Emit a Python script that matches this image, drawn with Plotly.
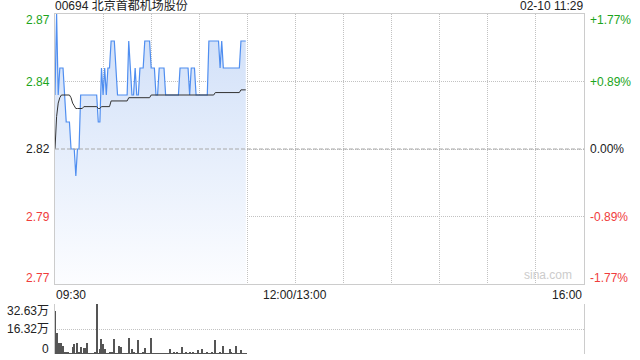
import plotly.graph_objects as go

# ---------------- data ----------------
title_text = "00694 北京首都机场股份"
stamp_text = "02-10 11:29"
prev_close = 2.82
price_min = 2.77
price_max = 2.87

minute_index = list(range(120))  # minutes after 09:30 (09:30 .. 11:29)

price = [
    2.84, 2.87, 2.84, 2.85, 2.85, 2.85, 2.84, 2.83, 2.83, 2.83,
    2.82, 2.82, 2.82, 2.81, 2.82, 2.82, 2.84, 2.84, 2.84, 2.84,
    2.84, 2.84, 2.84, 2.84, 2.84, 2.84, 2.84, 2.83, 2.83, 2.85,
    2.84, 2.85, 2.84, 2.85, 2.85, 2.86, 2.86, 2.86, 2.85, 2.84,
    2.84, 2.84, 2.84, 2.84, 2.84, 2.84, 2.86, 2.85, 2.84, 2.84,
    2.85, 2.84, 2.84, 2.85, 2.85, 2.85, 2.86, 2.86, 2.86, 2.86,
    2.85, 2.85, 2.85, 2.84, 2.84, 2.85, 2.85, 2.85, 2.85, 2.84,
    2.84, 2.84, 2.84, 2.84, 2.84, 2.84, 2.84, 2.84, 2.85, 2.85,
    2.85, 2.85, 2.85, 2.85, 2.84, 2.85, 2.85, 2.85, 2.84, 2.84,
    2.84, 2.84, 2.84, 2.84, 2.84, 2.84, 2.86, 2.86, 2.86, 2.86,
    2.86, 2.86, 2.86, 2.85, 2.86, 2.85, 2.85, 2.85, 2.85, 2.85,
    2.85, 2.85, 2.85, 2.85, 2.85, 2.85, 2.86, 2.86, 2.86, 2.86,
]

avg_price = [
    2.820, 2.832, 2.837, 2.839, 2.840, 2.840, 2.840, 2.840, 2.840, 2.840,
    2.839, 2.837, 2.836, 2.835, 2.835, 2.835, 2.835, 2.835, 2.8357, 2.8357,
    2.8357, 2.8357, 2.8357, 2.8357, 2.8357, 2.8357, 2.8357, 2.835, 2.835, 2.8357,
    2.8357, 2.8357, 2.8357, 2.8357, 2.8357, 2.8378, 2.8378, 2.8378, 2.8378, 2.8378,
    2.8378, 2.8378, 2.8378, 2.8378, 2.8378, 2.8378, 2.839, 2.839, 2.839, 2.839,
    2.839, 2.839, 2.839, 2.839, 2.839, 2.839, 2.839, 2.839, 2.839, 2.839,
    2.840, 2.840, 2.840, 2.840, 2.840, 2.840, 2.840, 2.840, 2.840, 2.840,
    2.840, 2.840, 2.840, 2.840, 2.840, 2.840, 2.840, 2.840, 2.840, 2.840,
    2.840, 2.840, 2.840, 2.840, 2.840, 2.840, 2.840, 2.840, 2.840, 2.840,
    2.840, 2.840, 2.840, 2.840, 2.840, 2.840, 2.840, 2.840, 2.840, 2.840,
    2.8409, 2.8409, 2.8409, 2.8409, 2.8409, 2.8409, 2.8409, 2.8409, 2.8409, 2.8409,
    2.8409, 2.8409, 2.8409, 2.8409, 2.8409, 2.8409, 2.8419, 2.8419, 2.8419, 2.8419,
]

volume = [
    280600, 139000, 74000, 74000, 72000, 54000, 13000, 13000, 7000, 2000,
    4000, 45000, 65000, 5000, 70000, 8000, 45000, 5000, 40000, 40000,
    72000, 3000, 2000, 4000, 3000, 8000, 326300, 3000, 33000, 98000,
    67000, 33000, 6500, 4000, 13000, 11000, 11000, 98000, 3000, 4000,
    54000, 46000, 4000, 6000, 3000, 2000, 105000, 4000, 30000, 15000,
    3000, 2000, 92000, 3000, 4000, 15000, 40000, 3000, 5000, 2000,
    105000, 3000, 2000, 4000, 2000, 3000, 5000, 2000, 3000, 4000,
    2000, 6000, 34000, 3000, 8000, 2000, 14000, 3000, 2000, 47000,
    3000, 4000, 14000, 3000, 13000, 2000, 10000, 3000, 4000, 24000,
    3000, 2000, 34000, 3000, 4000, 9000, 2000, 3000, 16000, 4000,
    91000, 3000, 2000, 11000, 3000, 54000, 4000, 2000, 5000, 30000,
    8000, 3000, 2000, 54000, 4000, 3000, 27000, 2000, 6000, 3000,
]

session_minutes = 330                      # 09:30-12:00 + 13:00-16:00
grid_minutes = [0, 30, 60, 90, 120, 150, 180, 210, 240, 270, 300, 330]
time_tick_pos = [0, 150, 330]
time_tick_labels = ["09:30", "12:00/13:00", "16:00"]

price_tick_vals = [2.87, 2.845, 2.82, 2.795, 2.77]
price_tick_labels = ["2.87", "2.84", "2.82", "2.79", "2.77"]
pct_tick_labels = ["+1.77%", "+0.89%", "0.00%", "-0.89%", "-1.77%"]

vol_max = 326300
vol_tick_vals = [326300, 163150, 0]
vol_tick_labels = ["32.63万", "16.32万", "0"]

# ---------------- styling ----------------
FONT = "Liberation Sans, Arial, Noto Sans CJK SC, sans-serif"
GREEN = "#1ca51c"
RED = "#f03c3c"
DARK = "#222222"
GRID = "#c2c2c2"
BORDER = "#cccccc"
DOT = "1px,1px"

def tick_color(v):
    if abs(v - prev_close) < 1e-9:
        return DARK
    return GREEN if v > prev_close else RED

fig = go.Figure()

# baseline for the fill
fig.add_trace(go.Scatter(
    x=minute_index, y=[price_min for _ in minute_index],
    mode="lines", line=dict(width=0, color="rgba(0,0,0,0)"),
    hoverinfo="skip", showlegend=False, xaxis="x", yaxis="y"))

fig.add_trace(go.Scatter(
    x=minute_index, y=price, mode="lines",
    line=dict(color="#4f8ef0", width=1.2, shape="linear"),
    fill="tonexty",
    fillgradient=dict(type="vertical",
                      colorscale=[[0, "rgb(252,253,255)"], [1, "rgb(206,222,248)"]],
                      start=price_min, stop=price_max),
    showlegend=False, xaxis="x", yaxis="y"))

fig.add_trace(go.Scatter(
    x=minute_index, y=avg_price, mode="lines",
    line=dict(color="#333333", width=1),
    showlegend=False, xaxis="x", yaxis="y"))

fig.add_trace(go.Bar(
    x=minute_index, y=volume, width=0.62,
    marker=dict(color="#555555", line=dict(width=0)),
    showlegend=False, xaxis="x2", yaxis="y2"))

main_bottom = 70 / 340.0
vol_top = 50 / 340.0

fig.update_layout(
    width=640, height=360,
    margin=dict(l=55, r=56, t=14, b=6, pad=0),
    paper_bgcolor="white", plot_bgcolor="white",
    font=dict(family=FONT, size=11, color=DARK),
    bargap=0,
    xaxis=dict(domain=[0, 1], range=[0, session_minutes], tickvals=grid_minutes,
               showticklabels=False, showgrid=True, gridcolor=GRID, griddash=DOT,
               gridwidth=1, zeroline=False, showline=True, linecolor=BORDER,
               linewidth=1, mirror=True, ticks=""),
    yaxis=dict(domain=[main_bottom, 1], range=[price_min, price_max],
               tickvals=price_tick_vals, showticklabels=False, showgrid=True,
               gridcolor=GRID, griddash=DOT, gridwidth=1, zeroline=False,
               showline=True, linecolor=BORDER, linewidth=1, mirror=True, ticks=""),
    xaxis2=dict(domain=[0, 1], range=[0, session_minutes], anchor="y2",
                showticklabels=False, showgrid=False, zeroline=False,
                showline=False, ticks=""),
    yaxis2=dict(domain=[0, vol_top], range=[0, vol_max], anchor="x2",
                tickvals=vol_tick_vals, showticklabels=False, showgrid=True,
                gridcolor=GRID, griddash=DOT, gridwidth=1, zeroline=False,
                showline=True, linecolor=BORDER, linewidth=1, mirror=True, ticks=""),
)

# previous close dashed line
fig.add_shape(type="line", xref="x", yref="y", x0=0, x1=session_minutes,
              y0=prev_close, y1=prev_close,
              line=dict(color="#a8a8a8", width=1, dash="4px,2px"), layer="above")

ann = []
n = len(price_tick_vals)
for i, (v, lab, pct) in enumerate(zip(price_tick_vals, price_tick_labels, pct_tick_labels)):
    shift = -6 if i == 0 else (6 if i == n - 1 else 0)
    c = tick_color(v)
    ann.append(dict(xref="paper", yref="y", x=0, y=v, text=lab, showarrow=False,
                    xanchor="right", yanchor="middle", xshift=-3, yshift=shift,
                    font=dict(color=c, size=12, family=FONT)))
    ann.append(dict(xref="paper", yref="y", x=1, y=v, text=pct, showarrow=False,
                    xanchor="left", yanchor="middle", xshift=4, yshift=shift,
                    font=dict(color=c, size=12, family=FONT)))

anchors = ["left", "center", "right"]
for pos, lab, a in zip(time_tick_pos, time_tick_labels, anchors):
    ann.append(dict(xref="x", yref="paper", x=pos, y=main_bottom, text=lab,
                    showarrow=False, xanchor=a, yanchor="top", yshift=-2,
                    xshift=-1 if a == "left" else 0,
                    font=dict(color=DARK, size=12, family=FONT)))

vshifts = [-7, 0, 5]
for v, lab, s in zip(vol_tick_vals, vol_tick_labels, vshifts):
    ann.append(dict(xref="paper", yref="y2", x=0, y=v, text=lab, showarrow=False,
                    xanchor="right", yanchor="middle", xshift=-4, yshift=s,
                    font=dict(color=DARK, size=12, family=FONT)))

ann.append(dict(xref="paper", yref="paper", x=0, y=1, text=title_text, showarrow=False,
                xanchor="left", yanchor="bottom", xshift=-2, yshift=-1,
                font=dict(color=DARK, size=12, family=FONT)))
ann.append(dict(xref="paper", yref="paper", x=1, y=1, text=stamp_text, showarrow=False,
                xanchor="right", yanchor="bottom", xshift=1, yshift=-1,
                font=dict(color=DARK, size=12, family=FONT)))
ann.append(dict(xref="paper", yref="y", x=1, y=price_min, text="sina.com", showarrow=False,
                xanchor="right", yanchor="bottom", xshift=-10, yshift=0,
                font=dict(color="#cccccc", size=12, family=FONT)))

fig.update_layout(annotations=ann)

fig.write_html("out.html")
